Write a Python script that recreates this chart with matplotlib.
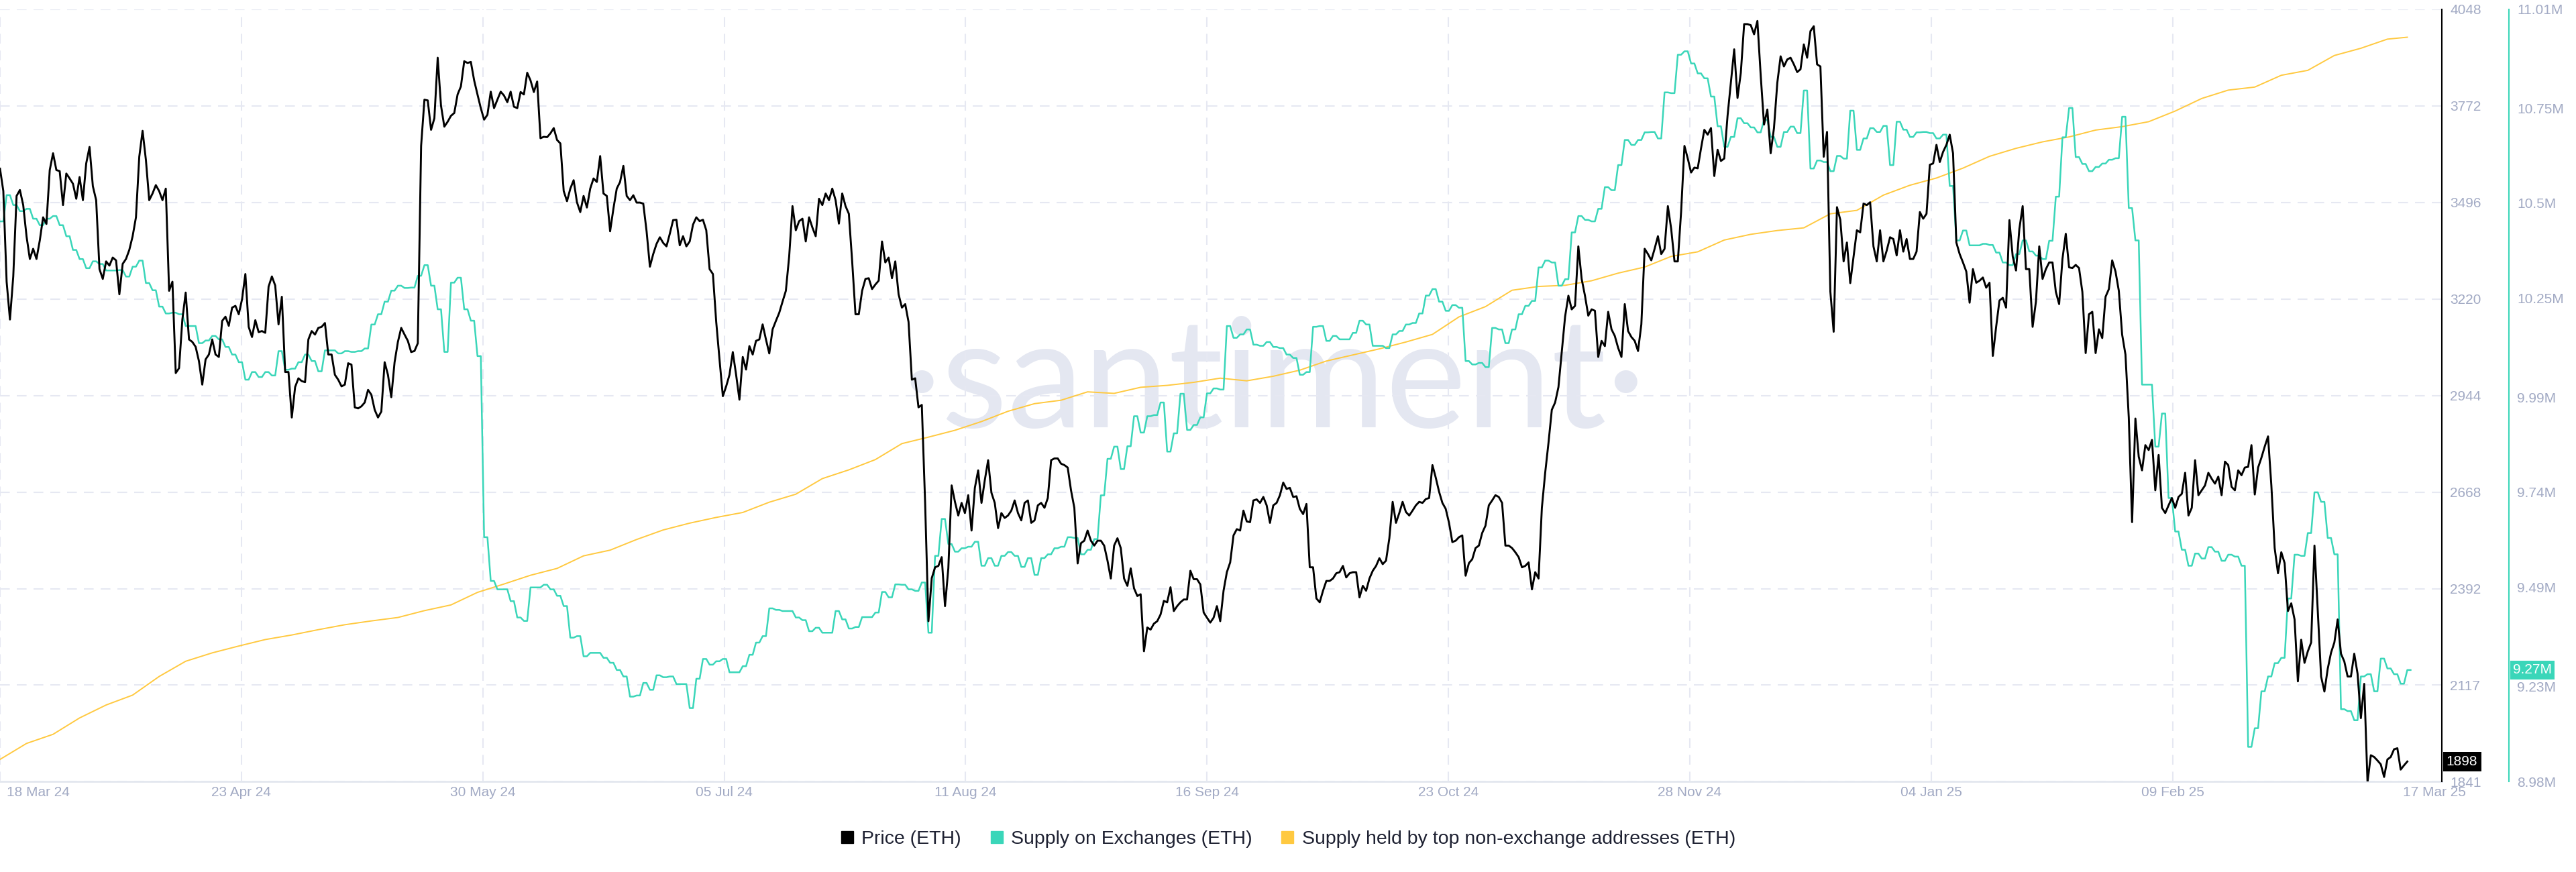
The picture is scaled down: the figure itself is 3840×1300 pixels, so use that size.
import matplotlib
matplotlib.use("Agg")
import matplotlib.pyplot as plt
from matplotlib.lines import Line2D
from matplotlib.transforms import ScaledTranslation, blended_transform_factory
import numpy as np
import pandas as pd

plt.rcParams['font.family'] = ['Liberation Sans', 'DejaVu Sans']

start = pd.Timestamp("2024-03-18")

# ETH price (USD), one value every 12 hours from 18 Mar 24
price = [
    3592, 3528, 3269, 3161, 3284, 3514, 3531, 3488, 3399, 3334,
    3363, 3334, 3387, 3453, 3434, 3588, 3636, 3588, 3585, 3488,
    3578, 3564, 3549, 3506, 3568, 3502, 3607, 3654, 3542, 3502,
    3305, 3277, 3327, 3315, 3338, 3330, 3233, 3320, 3334, 3360,
    3399, 3453, 3626, 3700, 3617, 3502, 3521, 3545, 3528, 3502,
    3535, 3243, 3269, 3008, 3022, 3161, 3238, 3104, 3097, 3083,
    3042, 2975, 3047, 3061, 3104, 3061, 3054, 3157, 3169, 3143,
    3195, 3200, 3176, 3219, 3291, 3140, 3111, 3159, 3125, 3128,
    3123, 3255, 3284, 3258, 3147, 3226, 3011, 3011, 2881, 2968,
    2993, 2985, 2982, 3104, 3128, 3118, 3137, 3140, 3151, 3061,
    3061, 3003, 2989, 2970, 2975, 3036, 3032, 2910, 2907, 2913,
    2924, 2960, 2946, 2903, 2881, 2898, 3039, 3003, 2939, 3039,
    3097, 3137, 3118, 3100, 3068, 3071, 3093, 3657, 3789, 3787,
    3703, 3736, 3909, 3772, 3712, 3726, 3743, 3751, 3804, 3827,
    3899, 3894, 3897, 3844, 3804, 3765, 3732, 3746, 3812, 3765,
    3789, 3812, 3801, 3782, 3812, 3769, 3765, 3811, 3804, 3866,
    3844, 3811, 3841, 3679, 3683, 3682, 3693, 3708, 3674, 3664,
    3528, 3499, 3535, 3559, 3496, 3468, 3514, 3481, 3535, 3564,
    3554, 3628, 3521, 3514, 3413, 3478, 3535, 3554, 3600, 3514,
    3502, 3516, 3495, 3495, 3492, 3413, 3312, 3348, 3377, 3396,
    3380, 3370, 3406, 3445, 3446, 3373, 3399, 3370, 3384, 3432,
    3453, 3442, 3446, 3416, 3305, 3291, 3154, 3046, 2942, 2970,
    3003, 3068, 3003, 2932, 3054, 3018, 3085, 3061, 3100, 3104,
    3147, 3104, 3064, 3133, 3157, 3180, 3212, 3243, 3341, 3485,
    3416, 3442, 3449, 3384, 3453, 3424, 3399, 3506, 3488, 3521,
    3502, 3535, 3502, 3435, 3521, 3485, 3463, 3327, 3176, 3176,
    3243, 3277, 3279, 3248, 3261, 3272, 3384, 3324, 3338, 3279,
    3327, 3233, 3195, 3205, 3154, 2989, 2993, 2910, 2917, 2637,
    2299, 2422, 2453, 2457, 2482, 2342, 2450, 2687, 2640, 2601,
    2637, 2608, 2659, 2558, 2680, 2730, 2637, 2702, 2759, 2666,
    2637, 2565, 2608, 2594, 2601, 2615, 2644, 2608, 2587, 2637,
    2644, 2580, 2587, 2630, 2637, 2623, 2651, 2759, 2764, 2764,
    2749, 2745, 2738, 2673, 2623, 2464, 2522, 2529, 2558, 2529,
    2515, 2529, 2529, 2515, 2472, 2421, 2515, 2536, 2508, 2421,
    2400, 2450, 2393, 2371, 2376, 2213, 2281, 2275, 2292, 2299,
    2318, 2357, 2353, 2396, 2328, 2342, 2353, 2361, 2361, 2443,
    2419, 2419, 2404, 2324, 2309, 2295, 2309, 2342, 2299, 2386,
    2439, 2467, 2544, 2562, 2558, 2615, 2584, 2582, 2644, 2647,
    2637, 2654, 2630, 2580, 2630, 2637, 2659, 2695, 2677, 2680,
    2654, 2656, 2620, 2605, 2634, 2453, 2453, 2364, 2353,
    2386, 2414, 2414, 2421, 2436, 2439, 2457, 2424, 2436, 2439,
    2439, 2367, 2400, 2386, 2421, 2443, 2457, 2479, 2462, 2472,
    2536, 2640, 2580, 2608, 2640, 2611, 2601, 2615, 2630, 2640,
    2637, 2648, 2651, 2745, 2709, 2669, 2637, 2620, 2580, 2525,
    2529, 2539, 2544, 2429, 2465, 2476, 2508, 2515, 2551, 2572,
    2630, 2644, 2659, 2654, 2637, 2515, 2515, 2508, 2496, 2482,
    2453, 2457, 2467, 2390, 2439, 2421, 2623, 2723, 2809, 2903,
    2924, 2968, 3068, 3169, 3229, 3190, 3200, 3370, 3277, 3229,
    3172, 3190, 3186, 3054, 3100, 3085, 3183, 3133, 3114, 3080,
    3054, 3205, 3128, 3111, 3100, 3071, 3147, 3363, 3348, 3330,
    3363, 3399, 3348, 3363, 3485, 3420, 3327, 3327, 3470, 3657,
    3621, 3581, 3595, 3593, 3650, 3703, 3689, 3708, 3571, 3646,
    3614, 3621, 3743, 3837, 3933, 3794, 3866, 4005, 4005, 4002,
    3976, 4014, 3858, 3718, 3761, 3636, 3708, 3837, 3913, 3884,
    3904, 3909, 3890, 3868, 3876, 3947, 3909, 3985, 3999, 3890,
    3884, 3626, 3697, 3241, 3126, 3482, 3446, 3327, 3381, 3265,
    3341, 3416, 3410, 3492, 3488, 3496, 3370, 3327, 3416, 3327,
    3358, 3396, 3391, 3344, 3416, 3355, 3391, 3334, 3334, 3355,
    3468, 3449, 3463, 3603, 3607, 3660, 3611, 3640, 3660, 3689,
    3636, 3381, 3348, 3324, 3298, 3209, 3305, 3266, 3272, 3281,
    3252, 3266, 3057, 3140, 3215, 3223, 3195, 3445, 3341, 3301,
    3420, 3485, 3305, 3305, 3140, 3212, 3370, 3277, 3305, 3324,
    3324, 3240, 3205, 3334, 3406, 3310, 3308, 3317, 3308, 3240,
    3065, 3176, 3183, 3065, 3133, 3108, 3226, 3248, 3330, 3298,
    3243, 3118, 3061, 2881, 2582, 2878, 2769, 2730, 2802, 2788,
    2817, 2673, 2774, 2623, 2608, 2630, 2651, 2623, 2654, 2663,
    2723, 2601, 2623, 2759, 2659, 2673, 2687, 2723, 2706, 2692,
    2712, 2659, 2755, 2745, 2683, 2673, 2730, 2716, 2738, 2740,
    2802, 2661, 2738, 2766, 2798, 2827, 2687, 2508, 2436, 2496,
    2465, 2328, 2350, 2304, 2127, 2246, 2180, 2213, 2238, 2515,
    2328, 2141, 2098, 2163, 2209, 2238, 2304, 2206, 2184, 2141,
    2141, 2206, 2149, 2022, 2120, 1839, 1916, 1911, 1901,
    1890, 1854, 1904, 1911, 1933, 1936, 1875, 1887, 1898,
]

# Supply on exchanges (million ETH), one value per day from 18 Mar 24
exch_supply = [
    10.452, 10.521, 10.495, 10.479, 10.485, 10.459, 10.442, 10.459, 10.466, 10.442,
    10.413, 10.377, 10.353, 10.329, 10.347, 10.340, 10.323, 10.323, 10.324, 10.307,
    10.333, 10.349, 10.290, 10.271, 10.228, 10.210, 10.212, 10.208, 10.177, 10.177,
    10.132, 10.139, 10.151, 10.142, 10.122, 10.102, 10.082, 10.036, 10.056, 10.043,
    10.056, 10.047, 10.111, 10.062, 10.065, 10.082, 10.102, 10.085, 10.058, 10.113,
    10.113, 10.105, 10.111, 10.109, 10.111, 10.118, 10.181, 10.208, 10.241, 10.270,
    10.283, 10.277, 10.278,
    10.309, 10.337, 10.283, 10.221, 10.109, 10.291, 10.304, 10.221, 10.191, 10.098,
    9.622, 9.507, 9.485, 9.485, 9.454, 9.411, 9.402, 9.490, 9.490, 9.497,
    9.485, 9.468, 9.441, 9.358, 9.362, 9.309, 9.318, 9.318, 9.305, 9.292,
    9.273, 9.256, 9.203, 9.206, 9.239, 9.221, 9.259, 9.254, 9.256, 9.236,
    9.236, 9.173, 9.250, 9.302, 9.287, 9.296, 9.302, 9.267, 9.267, 9.283,
    9.313, 9.345, 9.362, 9.435, 9.431, 9.428, 9.428, 9.411, 9.404, 9.375,
    9.384,
    9.371, 9.371, 9.428, 9.406, 9.382, 9.386, 9.412, 9.412, 9.424, 9.478,
    9.464, 9.498, 9.497, 9.485, 9.481, 9.503, 9.371, 9.573, 9.670, 9.604,
    9.584, 9.593, 9.597, 9.610, 9.547, 9.567, 9.547, 9.573, 9.583, 9.573,
    9.544, 9.567, 9.523, 9.567, 9.577, 9.593, 9.597, 9.622, 9.620, 9.577,
    9.589, 9.617, 9.732, 9.828, 9.860, 9.801, 9.861, 9.940, 9.897, 9.940,
    9.943, 9.976, 9.847, 9.895, 9.999, 9.904, 9.917, 9.937, 10.000, 10.013,
    10.010,
    10.177, 10.146, 10.155, 10.168, 10.128, 10.125, 10.135, 10.122, 10.119, 10.102,
    10.093, 10.049, 10.056, 10.175, 10.177, 10.138, 10.151, 10.142, 10.142, 10.159,
    10.191, 10.181, 10.125, 10.125, 10.119, 10.155, 10.164, 10.181, 10.185, 10.210,
    10.257, 10.274, 10.241, 10.217, 10.232, 10.225, 10.085, 10.076, 10.080, 10.069,
    10.172, 10.168, 10.132, 10.168, 10.208, 10.230, 10.243, 10.331, 10.349, 10.344,
    10.283, 10.300, 10.423, 10.466, 10.456, 10.452, 10.485, 10.542, 10.534, 10.600,
    10.666,
    10.653, 10.666, 10.686, 10.687, 10.670, 10.791, 10.789, 10.890, 10.899, 10.867,
    10.841, 10.828, 10.780, 10.702, 10.648, 10.674, 10.723, 10.710, 10.699, 10.686,
    10.719, 10.674, 10.648, 10.687, 10.701, 10.684, 10.796, 10.591, 10.612, 10.608,
    10.584, 10.624, 10.617, 10.743, 10.640, 10.670, 10.697, 10.687, 10.703, 10.600,
    10.714, 10.693, 10.674, 10.686, 10.687, 10.684, 10.670, 10.680, 10.545, 10.402,
    10.428, 10.389, 10.389, 10.393, 10.390, 10.370, 10.344, 10.337, 10.366, 10.402,
    10.373, 10.362, 10.353, 10.401, 10.517, 10.673, 10.750, 10.621, 10.603, 10.584,
    10.595, 10.604, 10.614, 10.618, 10.727, 10.487, 10.402, 10.023, 10.023, 9.860,
    9.947, 9.725, 9.637, 9.589, 9.547, 9.579, 9.566, 9.596, 9.584, 9.560,
    9.576, 9.571, 9.547, 9.071, 9.120, 9.217, 9.256, 9.291, 9.305, 9.461,
    9.576, 9.573, 9.633, 9.740, 9.715, 9.620, 9.577, 9.170, 9.165, 9.141,
    9.256, 9.262, 9.217, 9.303, 9.277, 9.262, 9.237, 9.273,
]

# Supply held by top non-exchange addresses: the chart shows no scale for it,
# so it is read against the exchange-supply scale (million ETH), every 4 days
top_days = list(range(0, 361, 4)) + [363]
top_supply = [
    9.038, 9.080, 9.104, 9.147, 9.181, 9.207, 9.256, 9.296, 9.318, 9.336,
    9.353, 9.365, 9.379, 9.392, 9.402, 9.411, 9.429, 9.444, 9.477, 9.499,
    9.522, 9.540, 9.573, 9.588, 9.616, 9.641, 9.659, 9.674, 9.687, 9.714,
    9.735, 9.776, 9.799, 9.826, 9.868, 9.885, 9.903, 9.926, 9.953, 9.973,
    9.982, 10.004, 10.000, 10.016, 10.021, 10.029, 10.040, 10.033, 10.045, 10.061,
    10.085, 10.101, 10.117, 10.135, 10.155, 10.201, 10.228, 10.271, 10.281, 10.284,
    10.296, 10.316, 10.332, 10.360, 10.372, 10.403, 10.418, 10.428, 10.435, 10.472,
    10.481, 10.521, 10.547, 10.566, 10.592, 10.623, 10.644, 10.661, 10.674, 10.692,
    10.701, 10.714, 10.742, 10.775, 10.797, 10.805, 10.836, 10.849, 10.888, 10.907,
    10.931, 10.936,
]

date_labels = ["18 Mar 24", "23 Apr 24", "30 May 24", "05 Jul 24", "11 Aug 24",
               "16 Sep 24", "23 Oct 24", "28 Nov 24", "04 Jan 25", "09 Feb 25",
               "17 Mar 25"]
price_ticks = [1841, 2117, 2392, 2668, 2944, 3220, 3496, 3772, 4048]
supply_ticks = [8.98, 9.23, 9.49, 9.74, 9.99, 10.25, 10.5, 10.75, 11.01]
supply_labels = ["8.98M", "9.23M", "9.49M", "9.74M", "9.99M", "10.25M",
                 "10.5M", "10.75M", "11.01M"]

BLACK = "#000000"
TEAL = "#3ad6b9"
YELLOW = "#ffc940"
LABEL = "#a2aac4"
GRID = "#e6e8f2"

price_t = start + pd.to_timedelta(np.arange(len(price)) * 12, unit="h")
d = np.arange(len(exch_supply))
exch_t = start + pd.to_timedelta(np.repeat(d, 2) + np.tile([0.0, 0.5], len(d)), unit="D")
exch_v = np.repeat(exch_supply, 2)
top_t = start + pd.to_timedelta(top_days, unit="D")
tick_t = [start + pd.Timedelta(days=36.4 * k) for k in range(len(date_labels))]

fig = plt.figure(figsize=(38.4, 13), dpi=100)
ax = fig.add_axes([0, 0.1038, 0.9479, 0.8858])
ax_top = ax.twinx()
ax_s = ax.twinx()
ax_p = ax.twinx()

xmin, xmax = start, start + pd.Timedelta(days=368.2)
for a in (ax, ax_top, ax_s, ax_p):
    a.set_xlim(xmin, xmax)
    for s in a.spines.values():
        s.set_visible(False)
    a.patch.set_visible(False)

# background: grid, date axis, watermark
ax.set_ylim(price_ticks[0], price_ticks[-1])
ax.set_yticks(price_ticks)
ax.tick_params(axis="y", left=False, labelleft=False)
ax.set_xticks(tick_t)
ax.set_xticklabels(date_labels)
ax.tick_params(axis="x", length=0, pad=5, labelsize=15, labelcolor=LABEL)
ax.grid(True, color=GRID, lw=1.5, ls=(0, (7, 5)))
ax.get_xgridlines()[-1].set_visible(False)
ax.spines["bottom"].set_visible(True)
ax.spines["bottom"].set_color("#e3e7ef")
ax.spines["bottom"].set_linewidth(2)
labs = ax.get_xticklabels()
labs[0].set_ha("left")
labs[0].set_transform(labs[0].get_transform() + ScaledTranslation(0.10, 0, fig.dpi_scale_trans))
labs[-1].set_transform(labs[-1].get_transform() + ScaledTranslation(0.31, 0, fig.dpi_scale_trans))
ax.text(0.4945, 0.51, "\u00b7santiment\u00b7", transform=fig.transFigure, ha="center",
        va="baseline", fontsize=164, color="#e4e7f1", family=["Lato", "DejaVu Sans"],
        zorder=0)

# top non-exchange holders (no visible scale)
ax_top.set_ylim(supply_ticks[0], supply_ticks[-1])
ax_top.set_yticks([])
ax_top.plot(top_t, top_supply, color=YELLOW, lw=1.4)

# supply on exchanges
ax_s.set_ylim(supply_ticks[0], supply_ticks[-1])
ax_s.plot(exch_t, exch_v, color=TEAL, lw=1.8)
ax_s.spines["right"].set_visible(True)
ax_s.spines["right"].set_position(("axes", 1 + 100 / 3640))
ax_s.spines["right"].set_color(TEAL)
ax_s.spines["right"].set_linewidth(1.5)
ax_s.set_yticks(supply_ticks)
ax_s.set_yticklabels(supply_labels)
ax_s.tick_params(axis="y", length=0, pad=9, labelsize=15, labelcolor=LABEL)
ax_s.tick_params(axis="x", bottom=False, labelbottom=False)

# price
ax_p.set_ylim(price_ticks[0], price_ticks[-1])
ax_p.plot(price_t, price, color=BLACK, lw=2.1)
ax_p.spines["right"].set_visible(True)
ax_p.spines["right"].set_color(BLACK)
ax_p.spines["right"].set_linewidth(1.5)
ax_p.set_yticks(price_ticks)
ax_p.set_yticklabels([str(v) for v in price_ticks])
ax_p.tick_params(axis="y", length=0, pad=9, labelsize=15, labelcolor=LABEL)
ax_p.tick_params(axis="x", bottom=False, labelbottom=False)

# last-value badges
tp = blended_transform_factory(ax_p.transAxes, ax_p.transData)
ax_p.text(1.0019, price[-1], f"{price[-1]}", transform=tp, ha="left", va="center",
          fontsize=15, color="white", clip_on=False,
          bbox=dict(boxstyle="square,pad=0.25", fc=BLACK, ec="none"))
ts = blended_transform_factory(ax_s.transAxes, ax_s.transData)
ax_s.text(1 + 106 / 3640, exch_supply[-1], f"{exch_supply[-1]:.2f}M", transform=ts,
          ha="left", va="center", fontsize=15, color="white", clip_on=False,
          bbox=dict(boxstyle="square,pad=0.2", fc=TEAL, ec="none"))

handles = [Line2D([], [], marker="s", ls="none", markersize=13, color=c)
           for c in (BLACK, TEAL, YELLOW)]
fig.legend(handles, ["Price (ETH)", "Supply on Exchanges (ETH)",
                     "Supply held by top non-exchange addresses (ETH)"],
           loc="center", bbox_to_anchor=(0.5, 0.0377), ncol=3, frameon=False,
           fontsize=20.5, handlelength=0.7, handletextpad=0.4, columnspacing=1.5,
           labelcolor="#1e2132")

fig.savefig("out.png", dpi=100)
